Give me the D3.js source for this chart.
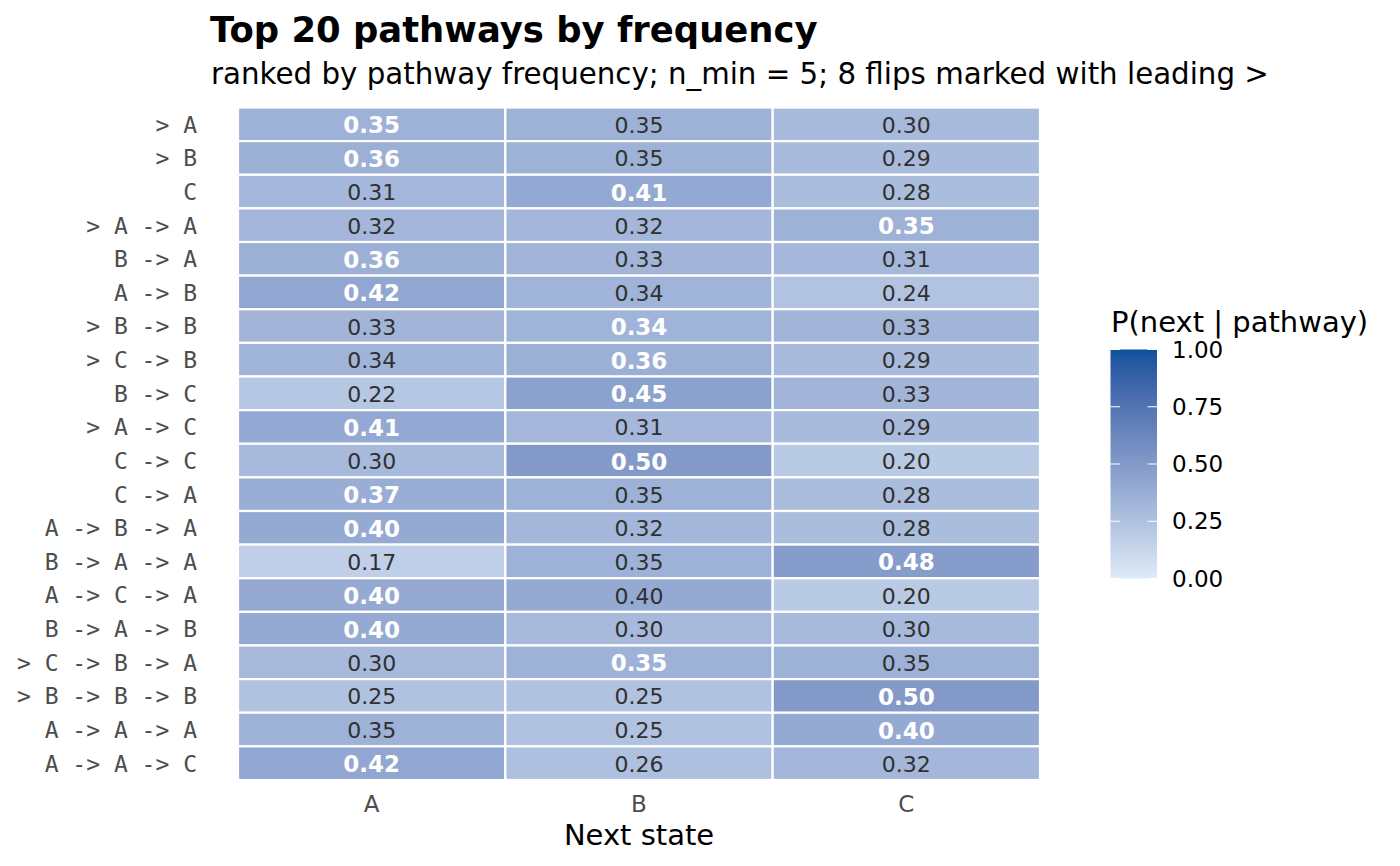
<!DOCTYPE html>
<html>
<head>
<meta charset="utf-8">
<script src="https://cdn.jsdelivr.net/npm/d3@7"></script>
<style>
  body { margin: 0; background: #fff; }
  text { font-family: "DejaVu Sans", sans-serif; }
</style>
</head>
<body>
<svg id="chart"></svg>
<script>

// pathways, top to bottom (leading ">" = flip)
var pathways = ["> A", "> B", "C", "> A -> A", "B -> A", "A -> B", "> B -> B", "> C -> B",
    "B -> C", "> A -> C", "C -> C", "C -> A", "A -> B -> A", "B -> A -> A", "A -> C -> A",
    "B -> A -> B", "> C -> B -> A", "> B -> B -> B", "A -> A -> A", "A -> A -> C"]

var nextStates = ["A", "B", "C"]

// P(next | pathway) per next state
var probA = [0.352, 0.36, 0.31, 0.32, 0.36, 0.42, 0.33, 0.34, 0.22, 0.41,
             0.30, 0.37, 0.40, 0.17, 0.402, 0.40, 0.30, 0.25, 0.35, 0.42]
var probB = [0.348, 0.35, 0.41, 0.32, 0.33, 0.34, 0.34, 0.36, 0.45, 0.31,
             0.50, 0.35, 0.32, 0.35, 0.398, 0.30, 0.352, 0.25, 0.25, 0.26]
var probC = [0.30, 0.29, 0.28, 0.35, 0.31, 0.24, 0.33, 0.29, 0.33, 0.29,
             0.20, 0.28, 0.28, 0.48, 0.20, 0.30, 0.348, 0.50, 0.40, 0.32]

var legendTicks = [0, 0.25, 0.5, 0.75, 1]

var width = 1400, height = 866

var svg = d3.select("#chart")
    .attr("width", width)
    .attr("height", height)

// build long table
var cells = []
pathways.forEach(function (p, i) {
    var row = [probA[i], probB[i], probC[i]]
    var mx = d3.max(row)
    nextStates.forEach(function (s, j) {
        cells.push({ pathway: p, next: s, value: row[j], top: row[j] === mx })
    })
})

var xScale = d3.scaleBand()
    .domain(nextStates)
    .range([238, 1040])

var yScale = d3.scaleBand()
    .domain(pathways)
    .range([107.5, 780])

var color = d3.scaleLinear()
    .domain([0, 1])
    .range(["#deebf7", "#08519c"])
    .interpolate(d3.interpolateLab)

// tiles
svg.append("g")
    .selectAll("rect")
    .data(cells)
    .enter()
    .append("rect")
    .attr("x", d => xScale(d.next))
    .attr("y", d => yScale(d.pathway))
    .attr("width", xScale.bandwidth())
    .attr("height", yScale.bandwidth())
    .attr("fill", d => color(d.value))
    .attr("stroke", "white")
    .attr("stroke-width", 2.2)

// cell labels
svg.append("g")
    .selectAll("text")
    .data(cells)
    .enter()
    .append("text")
    .attr("x", d => xScale(d.next) + xScale.bandwidth() / 2)
    .attr("y", d => yScale(d.pathway) + yScale.bandwidth() / 2 + 1)
    .attr("text-anchor", "middle")
    .attr("dominant-baseline", "central")
    .style("font-size", d => d.top ? "23px" : "22px")
    .style("font-weight", d => d.top ? "bold" : "normal")
    .attr("fill", d => d.top ? "white" : "#303030")
    .text(d => d3.format(".2f")(d.value))

// y axis (monospace labels)
var yAxis = svg.append("g")
    .attr("transform", "translate(238,1)")
    .call(d3.axisLeft(yScale).tickSize(0).tickPadding(41))
yAxis.select(".domain").remove()
yAxis.selectAll("text")
    .style("font-family", "'DejaVu Sans Mono', monospace")
    .style("font-size", "23px")
    .style("white-space", "pre")
    .attr("fill", "#4d4d4d")

// x axis
var xAxis = svg.append("g")
    .attr("transform", "translate(0,780)")
    .call(d3.axisBottom(xScale).tickSize(0).tickPadding(16))
xAxis.select(".domain").remove()
xAxis.selectAll("text")
    .style("font-family", "'DejaVu Sans', sans-serif")
    .style("font-size", "23px")
    .attr("fill", "#4d4d4d")

svg.append("text")
    .attr("x", (238 + 1040) / 2)
    .attr("y", 845)
    .attr("text-anchor", "middle")
    .style("font-size", "29px")
    .text("Next state")

// titles
svg.append("text")
    .attr("x", 210)
    .attr("y", 42)
    .style("font-size", "35.4px")
    .style("font-weight", "bold")
    .text("Top 20 pathways by frequency")

svg.append("text")
    .attr("x", 211)
    .attr("y", 84)
    .style("font-size", "29.3px")
    .text("ranked by pathway frequency; n_min = 5; 8 flips marked with leading >")

// legend colorbar
var legY = d3.scaleLinear().domain([0, 1]).range([578.5, 349.5])
var grad = svg.append("defs").append("linearGradient")
    .attr("id", "legGrad")
    .attr("x1", 0).attr("y1", 1).attr("x2", 0).attr("y2", 0)
grad.selectAll("stop")
    .data(d3.range(0, 1.0001, 0.05))
    .enter()
    .append("stop")
    .attr("offset", d => d)
    .attr("stop-color", d => color(d))

svg.append("rect")
    .attr("x", 1110.5)
    .attr("y", legY(1))
    .attr("width", 46.5)
    .attr("height", legY(0) - legY(1))
    .attr("fill", "url(#legGrad)")

var leg = svg.append("g")
leg.selectAll(".tl")
    .data(legendTicks)
    .enter()
    .append("line")
    .attr("x1", 1110.5).attr("x2", 1120)
    .attr("y1", d => legY(d)).attr("y2", d => legY(d))
    .attr("stroke", "white").attr("stroke-width", 1)
leg.selectAll(".tr")
    .data(legendTicks)
    .enter()
    .append("line")
    .attr("x1", 1147.5).attr("x2", 1157)
    .attr("y1", d => legY(d)).attr("y2", d => legY(d))
    .attr("stroke", "white").attr("stroke-width", 1)
leg.selectAll("text")
    .data(legendTicks)
    .enter()
    .append("text")
    .attr("x", 1172)
    .attr("y", d => legY(d))
    .attr("dominant-baseline", "central")
    .style("font-size", "23px")
    .text(d => d3.format(".2f")(d))

svg.append("text")
    .attr("x", 1111)
    .attr("y", 332)
    .style("font-size", "29px")
    .text("P(next | pathway)")

</script>
</body>
</html>
